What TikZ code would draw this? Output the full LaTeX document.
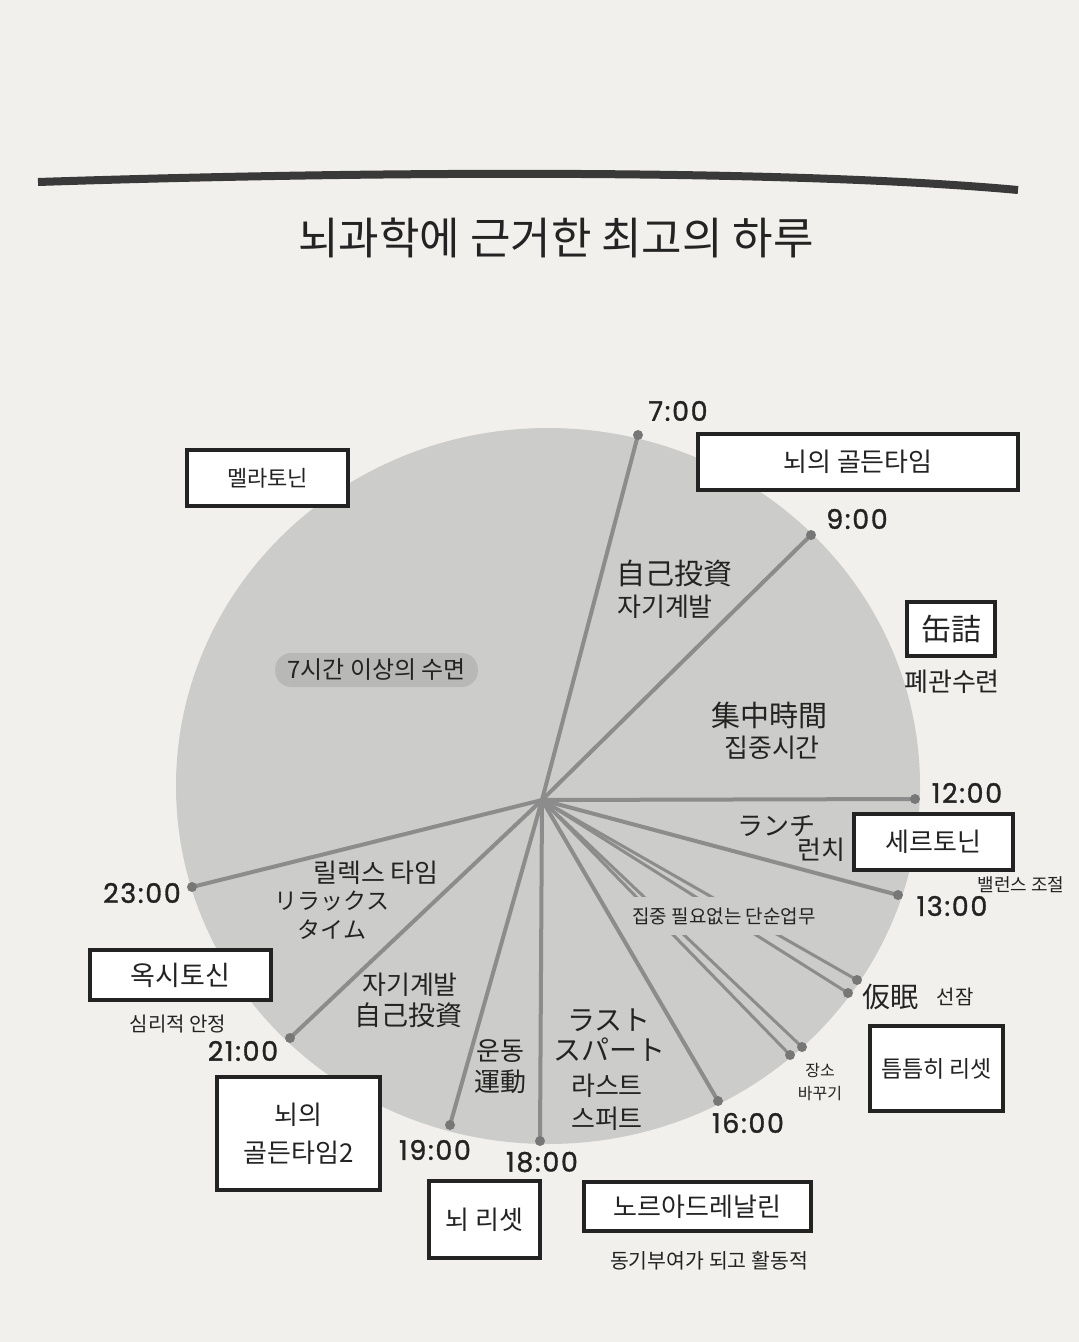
\documentclass[tikz,border=0pt]{standalone}
\usepackage{fontspec}
\usepackage{xcolor}
\newfontfamily\kr{Noto Sans CJK KR}
\newfontfamily\jp{Noto Sans CJK JP}
\newfontfamily\clockfont{Poppins}[FakeBold=1.2, LetterSpace=6]
\usetikzlibrary{positioning}
\definecolor{page}{RGB}{241,240,237}
\definecolor{disk}{RGB}{204,204,202}
\definecolor{spokegray}{RGB}{140,140,140}
\definecolor{hilite}{RGB}{184,184,182}
\definecolor{ink}{RGB}{35,35,35}
\tikzset{%
	hormone/.style  = {draw=ink, line width=4pt, fill=white, inner sep=0pt, align=center, text=ink, font=\kr\fontsize{26}{36}\selectfont},
	slot/.style     = {align=center, text=ink, font=\kr\fontsize{26}{33}\selectfont}, % Korean inside the disk
	slotjp/.style   = {align=center, text=ink, font=\jp\fontsize{26}{33}\selectfont}, % Japanese inside the disk
	note/.style     = {text=ink, font=\kr\fontsize{19}{22}\selectfont},
	clocklbl/.style = {text=ink, font=\clockfont\fontsize{27}{30}\selectfont},
	spoke/.style    = {draw=spokegray, line width=4pt, line cap=round},
	thinspoke/.style= {draw=spokegray, line width=3pt, line cap=round},
	tip/.style      = {circle, fill=spokegray!85!black, inner sep=0pt, minimum size=10pt},
}
\begin{document}
\begin{tikzpicture}[x=1pt, y=-1pt]
	\fill[page] (0,0) rectangle (1079,1342);
	\useasboundingbox (0,0) rectangle (1079,1342);
	% heading
	\draw[ink!90, line width=8pt] (38,182) .. controls (400,170) and (800,170) .. (1018,190);
	\node[text=ink, font=\kr\fontsize{44}{48}\selectfont] (title) at (556,238) {뇌과학에 근거한 최고의 하루};
	% the day disk
	\fill[disk] (548,786) ellipse [x radius=372pt, y radius=358pt];
	\coordinate (hub) at (542,800);
	\coordinate (t7) at (638,435);
	\coordinate (t9) at (811,535);
	\coordinate (t12) at (915,799);
	\coordinate (t13) at (898,895);
	\coordinate (t14a) at (857,980);
	\coordinate (t14b) at (848,993);
	\coordinate (t15a) at (802,1047);
	\coordinate (t15b) at (790,1055);
	\coordinate (t16) at (718,1101);
	\coordinate (t18) at (540,1141);
	\coordinate (t19) at (450,1125);
	\coordinate (t21) at (290,1038);
	\coordinate (t23) at (192,887);
	\foreach \t in {t7,t9,t12,t13,t16,t18,t19,t21,t23}
		\draw[spoke] (hub) -- (\t);
	\foreach \t in {t14a,t14b,t15a,t15b}
		\draw[thinspoke] (hub) -- (\t);
	\foreach \t in {t7,t9,t12,t13,t14a,t14b,t15a,t15b,t16,t18,t19,t21,t23}
		\node[tip] at (\t) {};
	% clock times
	\node[clocklbl] (c7) at (678,411) {7:00};
	\node[clocklbl] (c9) at (857,519) {9:00};
	\node[clocklbl] (c12) at (967,793) {12:00};
	\node[clocklbl] (c13) at (952,906) {13:00};
	\node[clocklbl] (c16) at (748,1123) {16:00};
	\node[clocklbl] (c18) at (542,1162) {18:00};
	\node[clocklbl] (c19) at (435,1150) {19:00};
	\node[clocklbl] (c21) at (243,1051) {21:00};
	\node[clocklbl] (c23) at (142,893) {23:00};
	% what happens in each slot
	\node[anchor=west, fill=hilite, rounded corners=16pt, inner xsep=12pt, minimum height=34pt, text=ink, font=\kr\fontsize{24}{28}\selectfont] (sleep) at (275,670) {7시간 이상의 수면\hspace{24pt}};
	\node[slotjp, font=\jp\fontsize{29}{33}\selectfont] (invest) at (674,573) {自己投資};
	\node[slot] (investkr) at (665,607) {자기계발};
	\node[slotjp, font=\jp\fontsize{29}{33}\selectfont] (focus) at (769,715) {集中時間};
	\node[slot] (focuskr) at (772,748) {집중시간};
	\node[slotjp] (lunch) at (776,826) {ランチ};
	\node[slot] (lunchkr) at (821,850) {런치};
	\node[fill=disk, inner xsep=6pt, inner ysep=10pt, text=ink, font=\kr\fontsize{19}{22}\selectfont] (routine) at (724,916) {집중 필요없는 단순업무};
	\node[slotjp, font=\jp\fontsize{28}{32}\selectfont] (nap) at (890,997) {仮眠};
	\node[note, font=\kr\fontsize{20}{24}\selectfont] (napkr) at (955,997) {선잠};
	\node[note, align=center, font=\kr\fontsize{16}{23}\selectfont] (move) at (820,1082) {장소\\바꾸기};
	\node[slotjp, font=\jp\fontsize{28}{30}\selectfont] (spurt) at (609,1035) {ラスト\\スパート};
	\node[slot] (spurtkr) at (607,1102) {라스트\\스퍼트};
	\node[slot] (sport) at (500,1051) {운동};
	\node[slotjp] (sportjp) at (500,1082) {運動};
	\node[slot] (invest2) at (410,985) {자기계발};
	\node[slotjp, font=\jp\fontsize{27}{33}\selectfont] (invest2jp) at (408,1015) {自己投資};
	\node[slot] (relax) at (376,873) {릴렉스 타임};
	\node[slotjp, font=\jp\fontsize{23}{29}\selectfont] (relaxjp) at (332,915) {リラックス\\タイム};
	% hormones
	\node[hormone, minimum width=161pt, minimum height=56pt, font=\kr\fontsize{22}{26}\selectfont] (mela) at (267.5,478) {멜라토닌};
	\node[hormone, minimum width=320pt, minimum height=56pt] (golden) at (858,462) {뇌의 골든타임};
	\node[hormone, minimum width=88pt, minimum height=54pt, font=\jp\fontsize{30}{34}\selectfont] (canned) at (951,629) {缶詰};
	\node[slot] (cannedkr) at (952,682) {폐관수련};
	\node[hormone, minimum width=159pt, minimum height=56pt] (sero) at (933.5,842) {세르토닌};
	\node[note, font=\kr\fontsize{18}{22}\selectfont] (serokr) at (1021,885) {밸런스 조절};
	\node[hormone, minimum width=133pt, minimum height=85pt, font=\kr\fontsize{23}{28}\selectfont] (breaks) at (936.5,1068.5) {틈틈히 리셋};
	\node[hormone, minimum width=181pt, minimum height=50pt, font=\kr\fontsize{27}{30}\selectfont] (oxy) at (180.5,975) {옥시토신};
	\node[note, font=\kr\fontsize{20}{24}\selectfont] (oxykr) at (178,1024) {심리적 안정};
	\node[hormone, minimum width=163pt, minimum height=113pt, font=\kr\fontsize{26}{38}\selectfont] (golden2) at (298.5,1133.5) {뇌의\\골든타임2};
	\node[hormone, minimum width=111pt, minimum height=77pt] (brainreset) at (484.5,1219.5) {뇌 리셋};
	\node[hormone, minimum width=227pt, minimum height=49pt] (noradr) at (697.5,1206.5) {노르아드레날린};
	\node[note, font=\kr\fontsize{20.5}{24}\selectfont] (noradrkr) at (709,1261) {동기부여가 되고 활동적};
\end{tikzpicture}
\end{document}
